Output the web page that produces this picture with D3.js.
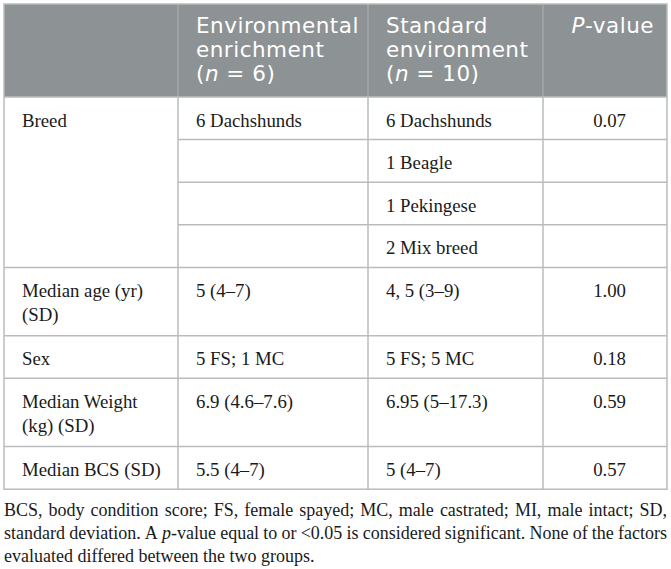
<!DOCTYPE html>
<html>
<head>
<meta charset="utf-8">
<script src="https://cdn.jsdelivr.net/npm/d3@7/dist/d3.min.js"></script>
<style>
    html, body { margin: 0; padding: 0; background: #fff; }
    svg { display: block; }
</style>
</head>
<body>
<div id="table"></div>
<script>
    // table content, "_x_" marks italic parts
    const headers = [[], ["Environmental", "enrichment", "(_n_ = 6)"], ["Standard", "environment", "(_n_ = 10)"], ["_P_-value"]];
    const rowLabels = [["Breed"], ["Median age (yr)", "(SD)"], ["Sex"], ["Median Weight", "(kg) (SD)"], ["Median BCS (SD)"]];
    const enrichment = [["6 Dachshunds"], ["5 (4–7)"], ["5 FS; 1 MC"], ["6.9 (4.6–7.6)"], ["5.5 (4–7)"]];
    const standard = [["6 Dachshunds", "1 Beagle", "1 Pekingese", "2 Mix breed"], ["4, 5 (3–9)"], ["5 FS; 5 MC"], ["6.95 (5–17.3)"], ["5 (4–7)"]];
    const pValues = ["0.07", "1.00", "0.18", "0.59", "0.57"];
    const footnote = [
        "BCS, body condition score; FS, female spayed; MC, male castrated; MI, male intact; SD,",
        "standard deviation. A _p_-value equal to or <0.05 is considered significant. None of the factors",
        "evaluated differed between the two groups."
    ];

    const width = 671, height = 569;
    const colX = d3.scaleOrdinal().domain([0, 1, 2, 3, 4]).range([4, 178, 368, 543, 667]);
    const tableTop = 4, headH = 93, subH = 42.6, lineH = 24, pad = 18;
    const lineColor = "#b9bcbe";
    const serif = "'Liberation Serif', 'Times New Roman', serif";
    const sans = "'DejaVu Sans', 'Open Sans', sans-serif";

    const svg = d3.select("#table").append("svg")
        .attr("width", width)
        .attr("height", height);

    function addRich(sel, str) {
        str.split("_").forEach((part, i) => {
            if (!part) return;
            sel.append("tspan")
                .attr("font-style", i % 2 ? "italic" : null)
                .text(part);
        });
    }

    // header
    svg.append("rect")
        .attr("x", colX(0)).attr("y", tableTop)
        .attr("width", colX(4) - colX(0)).attr("height", headH)
        .attr("fill", "#8d9294");

    headers.forEach((lines, c) => {
        lines.forEach((ln, k) => {
            const t = svg.append("text")
                .attr("x", c === 3 ? colX(4) - 13 : colX(c) + pad)
                .attr("y", tableTop + 29 + k * lineH)
                .attr("text-anchor", c === 3 ? "end" : "start")
                .attr("font-family", sans)
                .attr("font-size", 21.5)
                .attr("letter-spacing", 0.5)
                .attr("fill", "#fff");
            addRich(t, ln);
        });
    });

    // body rows
    const rows = rowLabels.map((lab, i) => {
        const subs = Math.max(enrichment[i].length, standard[i].length);
        const h = subs > 1 ? subs * subH : subH + (lab.length - 1) * (lineH + 1.7);
        return { lab, subs, h, i };
    });
    let y0 = tableTop + headH;
    rows.forEach(r => { r.y = y0; y0 += r.h; });
    const tableBottom = y0;

    const body = svg.append("g")
        .attr("font-family", serif)
        .attr("font-size", 18.8)
        .attr("fill", "#1a1a1a");

    rows.forEach(r => {
        r.lab.forEach((ln, k) => {
            body.append("text")
                .attr("x", colX(0) + pad)
                .attr("y", r.y + 29.5 + k * lineH)
                .text(ln);
        });
        const sh = r.subs > 1 ? subH : r.h;
        d3.range(r.subs).forEach(s => {
            const yy = r.y + s * sh;
            if (enrichment[r.i][s]) {
                body.append("text").attr("x", colX(1) + pad).attr("y", yy + 29.5).text(enrichment[r.i][s]);
            }
            if (standard[r.i][s]) {
                body.append("text").attr("x", colX(2) + pad).attr("y", yy + 29.5).text(standard[r.i][s]);
            }
            if (s === 0) {
                body.append("text").attr("x", colX(3) + 83).attr("y", yy + 29.5)
                    .attr("text-anchor", "end").text(pValues[r.i]);
            }
            if (s > 0) {
                svg.append("line")
                    .attr("x1", colX(1)).attr("x2", colX(4))
                    .attr("y1", yy).attr("y2", yy)
                    .attr("stroke", lineColor).attr("stroke-width", 1.5);
            }
        });
        if (r.i > 0) {
            svg.append("line")
                .attr("x1", colX(0)).attr("x2", colX(4))
                .attr("y1", r.y).attr("y2", r.y)
                .attr("stroke", lineColor).attr("stroke-width", 1.5);
        }
    });

    // vertical rules
    [1, 2, 3].forEach(c => {
        svg.append("line")
            .attr("x1", colX(c)).attr("x2", colX(c))
            .attr("y1", tableTop).attr("y2", tableTop + headH)
            .attr("stroke", "#a3a7a9").attr("stroke-width", 1.5);
        svg.append("line")
            .attr("x1", colX(c)).attr("x2", colX(c))
            .attr("y1", tableTop + headH).attr("y2", tableBottom)
            .attr("stroke", lineColor).attr("stroke-width", 1.5);
    });
    svg.append("rect")
        .attr("x", colX(0)).attr("y", tableTop)
        .attr("width", colX(4) - colX(0)).attr("height", tableBottom - tableTop)
        .attr("fill", "none").attr("stroke", lineColor).attr("stroke-width", 1.5);
    svg.append("line")
        .attr("x1", colX(0)).attr("x2", colX(4))
        .attr("y1", tableTop + headH).attr("y2", tableTop + headH)
        .attr("stroke", lineColor).attr("stroke-width", 1.5);

    // footnote, first lines justified word by word
    const fn = svg.append("g")
        .attr("font-family", serif)
        .attr("font-size", 18)
        .attr("fill", "#1a1a1a");
    footnote.forEach((ln, k) => {
        const yy = tableBottom + 27 + k * 23;
        const words = ln.split(" ");
        const nodes = words.map(w => {
            const t = fn.append("text").attr("y", yy);
            addRich(t, w);
            return t;
        });
        const widths = nodes.map(t => t.node().getComputedTextLength());
        const total = d3.sum(widths);
        const justify = k < footnote.length - 1;
        const gap = justify ? (colX(4) - colX(0) - total) / (words.length - 1) : 4.5;
        let x = colX(0);
        nodes.forEach((t, j) => {
            t.attr("x", x);
            x += widths[j] + gap;
        });
    });
</script>
</body>
</html>
